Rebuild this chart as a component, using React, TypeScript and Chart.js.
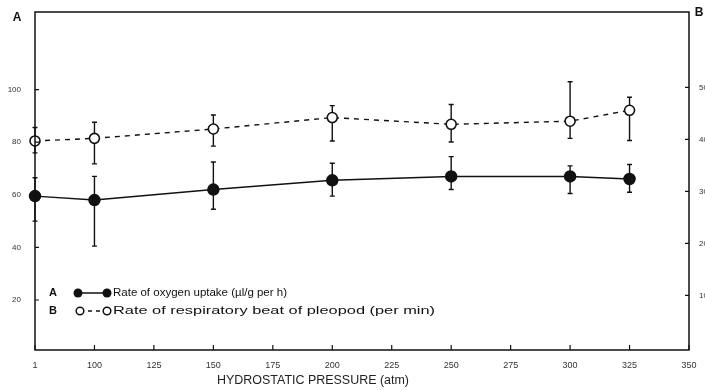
import React, { useEffect, useRef } from "react";
import { Chart, registerables } from "chart.js";

Chart.register(...registerables);

const pressureLabels = ["1", "100", "125", "150", "175", "200", "225", "250", "275", "300", "325", "350"];

const oxygenUptake = [59.5, 58, null, 62, null, 65.5, null, 67, null, 67, 66, null];
const oxygenUpper = [66.5, 67, null, 72.5, null, 72, null, 74.5, null, 71, 71.5, null];
const oxygenLower = [50, 40.5, null, 54.5, null, 59.5, null, 62, null, 60.5, 61, null];

const beatRate = [39.7, 40.2, null, 42, null, 44.2, null, 42.9, null, 43.5, 45.6, null];
const beatUpper = [42.3, 43.3, null, 44.7, null, 46.5, null, 46.7, null, 51.1, 48.1, null];
const beatLower = [37.4, 35.3, null, 38.7, null, 39.7, null, 39.5, null, 40.2, 39.8, null];

const leftTicks = [20, 40, 60, 80, 100];
const rightTicks = [10, 20, 30, 40, 50];

const legendA = "Rate of oxygen uptake (\u00b5l/g per h)";
const legendB = "Rate of respiratory beat of pleopod (per min)";
const xTitle = "HYDROSTATIC PRESSURE (atm)";

const FONT = "'Liberation Sans', Arial, sans-serif";
const INK = "#111";

function drawScaledText(ctx: CanvasRenderingContext2D, text: string, x: number, y: number, width: number) {
  const m = ctx.measureText(text).width;
  ctx.save();
  ctx.translate(x, y);
  ctx.scale(width / m, 1);
  ctx.fillText(text, 0, 0);
  ctx.restore();
}

const decorPlugin = {
  id: "decor",
  beforeDatasetsDraw(chart: any) {
    const ctx = chart.ctx as CanvasRenderingContext2D;
    const x = chart.scales.x;
    const yA = chart.scales.yA;
    const yB = chart.scales.yB;
    ctx.save();
    ctx.strokeStyle = INK;
    ctx.lineWidth = 1.4;
    const bars = (upper: (number | null)[], lower: (number | null)[], scale: any) => {
      upper.forEach((u, i) => {
        const l = lower[i];
        if (u == null || l == null) return;
        const px = x.getPixelForValue(i);
        const pu = scale.getPixelForValue(u);
        const pl = scale.getPixelForValue(l);
        ctx.beginPath();
        ctx.moveTo(px, pu);
        ctx.lineTo(px, pl);
        ctx.moveTo(px - 2.5, pu);
        ctx.lineTo(px + 2.5, pu);
        ctx.moveTo(px - 2.5, pl);
        ctx.lineTo(px + 2.5, pl);
        ctx.stroke();
      });
    };
    bars(oxygenUpper, oxygenLower, yA);
    bars(beatUpper, beatLower, yB);
    ctx.restore();
  },
  afterDraw(chart: any) {
    const ctx = chart.ctx as CanvasRenderingContext2D;
    const a = chart.chartArea;
    const x = chart.scales.x;
    const yA = chart.scales.yA;
    const yB = chart.scales.yB;
    ctx.save();
    // frame
    ctx.strokeStyle = INK;
    ctx.lineWidth = 1.5;
    ctx.beginPath();
    ctx.rect(a.left, a.top, a.right - a.left, a.bottom - a.top);
    ctx.stroke();
    // inner tick marks
    ctx.lineWidth = 1.2;
    ctx.beginPath();
    pressureLabels.forEach((_, i) => {
      const px = x.getPixelForValue(i);
      ctx.moveTo(px, a.bottom);
      ctx.lineTo(px, a.bottom - 5);
    });
    leftTicks.forEach((v) => {
      const py = yA.getPixelForValue(v);
      ctx.moveTo(a.left, py);
      ctx.lineTo(a.left + 4, py);
    });
    rightTicks.forEach((v) => {
      const py = yB.getPixelForValue(v);
      ctx.moveTo(a.right, py);
      ctx.lineTo(a.right - 4, py);
    });
    ctx.stroke();

    // axis letters
    ctx.fillStyle = INK;
    ctx.font = `bold 12px ${FONT}`;
    ctx.textBaseline = "middle";
    ctx.textAlign = "center";
    ctx.fillText("A", 17, 18);
    ctx.fillText("B", 699, 13);

    // x title
    ctx.font = `12px ${FONT}`;
    ctx.textAlign = "left";
    ctx.fillStyle = "#222";
    drawScaledText(ctx, xTitle, 217, 381, 192);

    // legend
    const rowA = 293;
    const rowB = 311;
    ctx.fillStyle = INK;
    ctx.font = `bold 11px ${FONT}`;
    ctx.textAlign = "center";
    ctx.fillText("A", 53, rowA);
    ctx.fillText("B", 53, rowB);

    ctx.strokeStyle = INK;
    ctx.lineWidth = 1.5;
    ctx.beginPath();
    ctx.moveTo(78, rowA);
    ctx.lineTo(107, rowA);
    ctx.stroke();
    [78, 107].forEach((cx) => {
      ctx.beginPath();
      ctx.arc(cx, rowA, 4.5, 0, Math.PI * 2);
      ctx.fill();
    });

    ctx.setLineDash([4, 4]);
    ctx.beginPath();
    ctx.moveTo(80, rowB);
    ctx.lineTo(107, rowB);
    ctx.stroke();
    ctx.setLineDash([]);
    [80, 107].forEach((cx) => {
      ctx.beginPath();
      ctx.arc(cx, rowB, 3.8, 0, Math.PI * 2);
      ctx.fillStyle = "#fff";
      ctx.fill();
      ctx.stroke();
    });

    ctx.fillStyle = INK;
    ctx.font = `11px ${FONT}`;
    ctx.textAlign = "left";
    drawScaledText(ctx, legendA, 113, rowA, 174);
    drawScaledText(ctx, legendB, 113, rowB, 322);
    ctx.restore();
  },
};

export default function App() {
  const ref = useRef<HTMLCanvasElement | null>(null);

  useEffect(() => {
    document.body.style.margin = "0";
    const canvas = ref.current;
    if (!canvas) return;
    const chart = new Chart(canvas, {
      type: "line",
      data: {
        labels: pressureLabels,
        datasets: [
          {
            label: legendA,
            data: oxygenUptake,
            yAxisID: "yA",
            borderColor: INK,
            backgroundColor: INK,
            borderWidth: 1.5,
            pointRadius: 5.5,
            pointBackgroundColor: INK,
            pointBorderColor: INK,
            spanGaps: true,
            tension: 0,
          },
          {
            label: legendB,
            data: beatRate,
            yAxisID: "yB",
            borderColor: INK,
            backgroundColor: "#fff",
            borderWidth: 1.4,
            borderDash: [5, 5],
            pointRadius: 5,
            pointBackgroundColor: "#fff",
            pointBorderColor: INK,
            pointBorderWidth: 1.6,
            spanGaps: true,
            tension: 0,
          },
        ],
      },
      options: {
        animation: false,
        responsive: false,
        devicePixelRatio: 1,
        layout: { padding: { top: 12, left: 0, right: 0, bottom: 0 } },
        plugins: {
          legend: { display: false },
          tooltip: { enabled: false },
          title: { display: false },
        },
        scales: {
          x: {
            type: "category",
            offset: false,
            grid: { display: false },
            border: { display: false },
            ticks: {
              autoSkip: false,
              maxRotation: 0,
              padding: 2,
              color: "#333",
              font: { family: FONT, size: 9 },
            },
            afterFit: (s: any) => {
              s.height = 40;
            },
          },
          yA: {
            type: "linear",
            position: "left",
            min: 1,
            max: 129.5,
            grid: { display: false },
            border: { display: false },
            afterBuildTicks: (s: any) => {
              s.ticks = leftTicks.map((v) => ({ value: v }));
            },
            ticks: {
              padding: 6,
              color: "#333",
              font: { family: FONT, size: 8 },
            },
            afterFit: (s: any) => {
              s.width = 35;
            },
          },
          yB: {
            type: "linear",
            position: "right",
            min: -0.5,
            max: 64.5,
            grid: { display: false },
            border: { display: false },
            afterBuildTicks: (s: any) => {
              s.ticks = rightTicks.map((v) => ({ value: v }));
            },
            ticks: {
              padding: 2,
              color: "#333",
              font: { family: FONT, size: 8 },
            },
            afterFit: (s: any) => {
              s.width = 16;
            },
          },
        },
      },
      plugins: [decorPlugin],
    });
    return () => chart.destroy();
  }, []);

  return (
    <div style={{ width: 705, height: 390, background: "#fff" }}>
      <canvas ref={ref} width={705} height={390} style={{ display: "block" }} />
    </div>
  );
}
